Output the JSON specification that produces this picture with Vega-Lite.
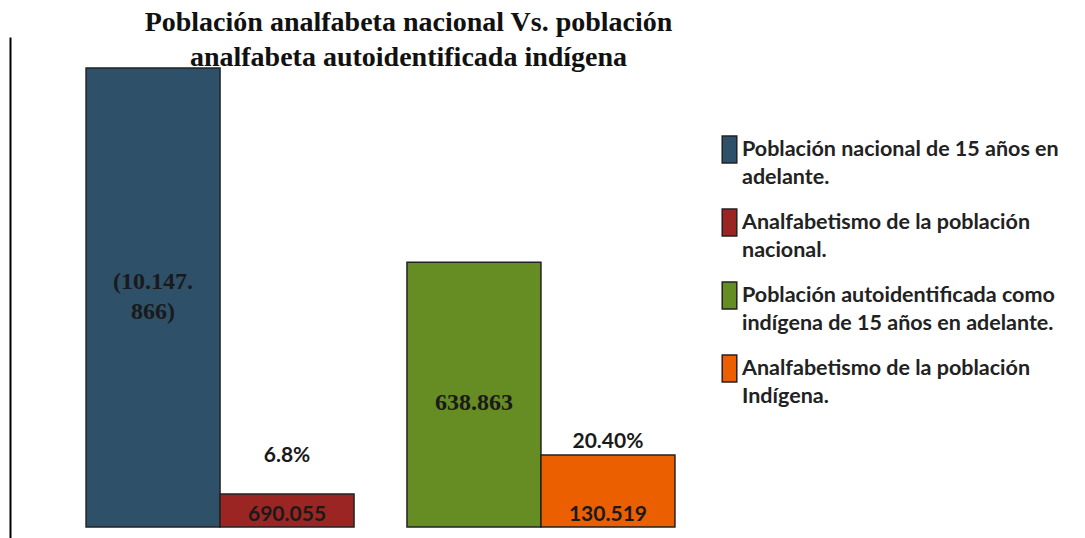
{
  "$schema": "https://vega.github.io/schema/vega-lite/v6.json",
  "width": 741,
  "height": 501,
  "autosize": {"type": "none"},
  "padding": {"left": 10, "top": 37, "right": 334, "bottom": 0},
  "background": "white",
  "title": {
    "text": ["Población analfabeta nacional Vs. población", "analfabeta autoidentificada indígena"],
    "font": "Liberation Serif",
    "fontSize": 28,
    "fontWeight": "bold",
    "color": "#111111",
    "anchor": "middle",
    "dx": 28,
    "offset": -35,
    "lineHeight": 35
  },
  "config": {"view": {"stroke": null}},
  "data": {
    "values": [
      {"grupo": "Nacional", "tipo": "Población de 15 años en adelante", "serie": "Población nacional de 15 años en adelante.", "cantidad": 10147866, "etiqueta": "(10.147.\n866)", "porcentaje": null, "altura_relativa": 100},
      {"grupo": "Nacional", "tipo": "Analfabeta", "serie": "Analfabetismo de la población nacional.", "cantidad": 690055, "etiqueta": "690.055", "porcentaje": "6.8%", "altura_relativa": 7.2},
      {"grupo": "Indígena", "tipo": "Población de 15 años en adelante", "serie": "Población autoidentificada como indígena de 15 años en adelante.", "cantidad": 638863, "etiqueta": "638.863", "porcentaje": null, "altura_relativa": 57.7},
      {"grupo": "Indígena", "tipo": "Analfabeta", "serie": "Analfabetismo de la población Indígena.", "cantidad": 130519, "etiqueta": "130.519", "porcentaje": "20.40%", "altura_relativa": 15.7}
    ]
  },
  "encoding": {
    "x": {"field": "grupo", "type": "nominal", "sort": null, "axis": null, "scale": {"paddingInner": 0.165, "paddingOuter": 0.237}},
    "xOffset": {"field": "tipo", "type": "nominal", "sort": null, "scale": {"paddingInner": 0, "paddingOuter": 0}}
  },
  "layer": [
    {
      "mark": {"type": "bar", "stroke": "#222222", "strokeWidth": 1.5},
      "encoding": {
        "y": {"field": "altura_relativa", "type": "quantitative", "scale": {"domain": [-2.4, 106.75], "nice": false, "zero": false},
          "axis": {"title": null, "labels": false, "ticks": false, "grid": false, "domainColor": "#000000", "domainWidth": 2}},
        "fill": {"field": "serie", "type": "nominal",
          "scale": {
            "domain": ["Población nacional de 15 años en adelante.", "Analfabetismo de la población nacional.", "Población autoidentificada como indígena de 15 años en adelante.", "Analfabetismo de la población Indígena."],
            "range": ["#2E5069", "#9B2522", "#668C24", "#EB5F00"]
          },
          "legend": {
            "orient": "none",
            "legendX": 705,
            "legendY": 98,
            "title": null,
            "labelFont": "Lato",
            "labelFontSize": 21.5,
            "labelFontWeight": "bold",
            "labelColor": "#222222",
            "labelLimit": 400,
            "labelOffset": -2,
            "symbolType": "M-0.54,-1H0.54V1H-0.54Z",
            "symbolSize": 729,
            "symbolStrokeColor": "#222222",
            "symbolStrokeWidth": 1.5,
            "symbolFillOpacity": 1,
            "rowPadding": 18,
            "labelExpr": "datum.label == 'Población nacional de 15 años en adelante.' ? ['Población nacional de 15 años en','adelante.'] : datum.label == 'Analfabetismo de la población nacional.' ? ['Analfabetismo de la población','nacional.'] : datum.label == 'Población autoidentificada como indígena de 15 años en adelante.' ? ['Población autoidentificada como','indígena de 15 años en adelante.'] : ['Analfabetismo de la población','Indígena.']",
            "encode": {"labels": {"update": {"lineHeight": {"value": 28}}}}
          }
        }
      }
    },
    {
      "transform": [{"filter": "datum.grupo == 'Nacional' && datum.altura_relativa > 40"}, {"calculate": "datum.altura_relativa / 2", "as": "centro"}],
      "mark": {"type": "text", "font": "Liberation Serif", "fontSize": 24, "fontWeight": "bold", "color": "#1a1a1a", "baseline": "middle", "lineBreak": "\n", "lineHeight": 30, "dy": -15},
      "encoding": {
        "y": {"field": "centro", "type": "quantitative"},
        "text": {"field": "etiqueta"}
      }
    },
    {
      "transform": [{"filter": "datum.grupo == 'Indígena' && datum.altura_relativa > 40"}, {"calculate": "datum.altura_relativa / 2", "as": "centro"}],
      "mark": {"type": "text", "font": "Liberation Serif", "fontSize": 24, "fontWeight": "bold", "color": "#1a1a1a", "baseline": "middle", "dy": 8},
      "encoding": {
        "y": {"field": "centro", "type": "quantitative"},
        "text": {"field": "etiqueta"}
      }
    },
    {
      "transform": [{"filter": "datum.altura_relativa < 40"}],
      "mark": {"type": "text", "font": "Lato", "fontSize": 21, "fontWeight": "bold", "color": "#1a1a1a", "baseline": "alphabetic", "dy": -6},
      "encoding": {
        "y": {"datum": 0, "type": "quantitative"},
        "text": {"field": "etiqueta"}
      }
    },
    {
      "transform": [{"filter": "datum.porcentaje == '6.8%'"}],
      "mark": {"type": "text", "font": "Lato", "fontSize": 21, "fontWeight": "bold", "color": "#1a1a1a", "baseline": "alphabetic", "dy": -32},
      "encoding": {
        "y": {"field": "altura_relativa", "type": "quantitative"},
        "text": {"field": "porcentaje"}
      }
    },
    {
      "transform": [{"filter": "datum.porcentaje == '20.40%'"}],
      "mark": {"type": "text", "font": "Lato", "fontSize": 21, "fontWeight": "bold", "color": "#1a1a1a", "baseline": "alphabetic", "dy": -7},
      "encoding": {
        "y": {"field": "altura_relativa", "type": "quantitative"},
        "text": {"field": "porcentaje"}
      }
    }
  ]
}
